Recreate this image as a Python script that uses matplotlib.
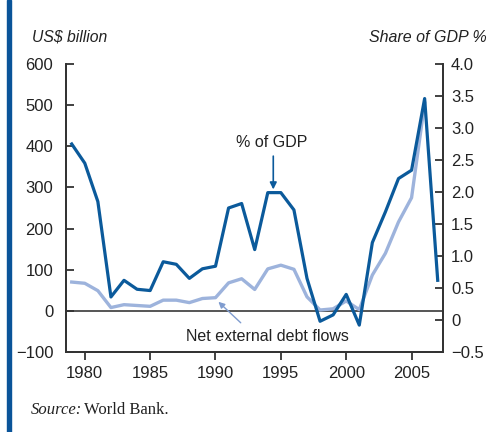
import numpy as np
import matplotlib
matplotlib.use("Agg")
import matplotlib.pyplot as plt

plt.rcParams['font.family'] = ['Liberation Sans', 'DejaVu Sans']

# data
years = list(range(1979, 2008))
gdp_share = [2.75, 2.45, 1.85, 0.36, 0.62, 0.48, 0.46, 0.91, 0.87, 0.65,
             0.80, 0.84, 1.75, 1.82, 1.10, 1.99, 1.99, 1.72, 0.65, -0.02,
             0.08, 0.40, -0.08, 1.21, 1.69, 2.21, 2.34, 3.46, 0.62]
debt_years = list(range(1979, 2007))
debt_flows = [70, 67, 49, 8, 15, 13, 11, 26, 26, 20,
              30, 32, 68, 78, 52, 102, 111, 101, 34, 2,
              5, 24, 3, 87, 140, 216, 275, 505]

left_ticks = [-100, 0, 100, 200, 300, 400, 500, 600]
left_labels = ['\u2212100', '0', '100', '200', '300', '400', '500', '600']
right_ticks = [-0.5, 0, 0.5, 1.0, 1.5, 2.0, 2.5, 3.0, 3.5, 4.0]
right_labels = ['\u22120.5', '0', '0.5', '1.0', '1.5', '2.0', '2.5', '3.0', '3.5', '4.0']
x_ticks = [1980, 1985, 1990, 1995, 2000, 2005]

dark = '#0b5a9b'
light = '#9db3dc'
txt = '#222222'
spine_c = '#333333'

fig = plt.figure(figsize=(4.97, 4.32), dpi=100)
ax = fig.add_axes([0.1322, 0.1852, 0.7585, 0.6667])
ax2 = ax.twinx()

ax.axhline(0, color='#555555', lw=1.4, zorder=1)
ax.plot(debt_years, debt_flows, color=light, lw=2.4, zorder=2)
ax2.plot(years, gdp_share, color=dark, lw=2.3, zorder=3)

ax.set_xlim(1978.54, 2007.38)
ax.set_ylim(-100, 600)
ax2.set_ylim(-0.5, 4.0)

ax.set_xticks(x_ticks)
ax.set_yticks(left_ticks)
ax.set_yticklabels(left_labels)
ax2.set_yticks(right_ticks)
ax2.set_yticklabels(right_labels)

for a in (ax, ax2):
    a.spines['top'].set_visible(False)
    for s in ('left', 'right', 'bottom'):
        a.spines[s].set_color(spine_c)
        a.spines[s].set_linewidth(1.3)
ax.tick_params(axis='y', direction='in', length=6, width=1.3, color=spine_c,
               labelsize=12, labelcolor=txt, pad=9)
ax2.tick_params(axis='y', direction='in', length=6, width=1.3, color=spine_c,
                labelsize=12, labelcolor=txt, pad=6)
ax.tick_params(axis='x', direction='out', length=6, width=1.3, color=spine_c,
               labelsize=12, labelcolor=txt, pad=4)

# % of GDP label with arrow
ax2.text(1994.32, 2.77, '% of GDP', ha='center', va='center', fontsize=11.5, color=txt)
ax2.annotate('', xy=(1994.42, 2.04), xytext=(1994.42, 2.56),
             arrowprops=dict(arrowstyle='-|>', color=dark, lw=1.2,
                             mutation_scale=10, shrinkA=0, shrinkB=0))

# net external debt flows label with arrow
ax.text(1994.0, -63, 'Net external debt flows', ha='center', va='center',
        fontsize=11.5, color=txt)
ax.annotate('', xy=(1990.22, 22), xytext=(1991.93, -29),
            arrowprops=dict(arrowstyle='-|>', color='#7f9ccf', lw=1.0,
                            mutation_scale=9, shrinkA=0, shrinkB=0))

fig.text(32 / 497, 1 - 37 / 432, 'US$ billion', fontsize=11.3, style='italic',
         color=txt, ha='left', va='center')
fig.text(487 / 497, 1 - 37 / 432, 'Share of GDP %', fontsize=11.5, style='italic',
         color=txt, ha='right', va='center')

fig.text(31 / 497, 1 - 410 / 432, 'Source:', fontsize=12, style='italic',
         family='Liberation Serif', color=txt, ha='left', va='center')
fig.text(84 / 497, 1 - 410 / 432, 'World Bank.', fontsize=12,
         family='Liberation Serif', color=txt, ha='left', va='center')

# side bar
fig.patches.append(plt.Rectangle((7 / 497, 0), 3.7 / 497, 1, transform=fig.transFigure,
                                 color='#0a5499', zorder=5))

fig.savefig('out.png', dpi=100)
